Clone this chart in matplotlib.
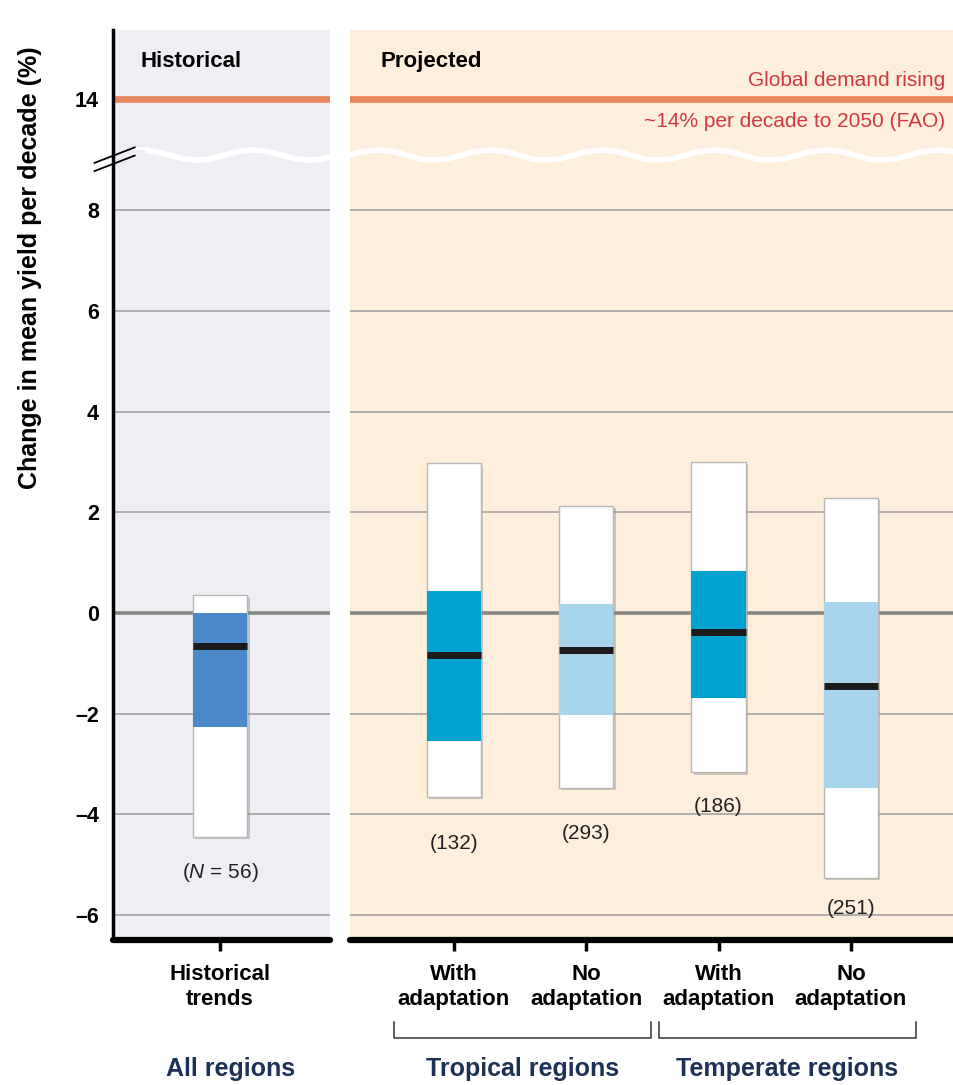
import numpy as np
import matplotlib.pyplot as plt
from matplotlib import font_manager
from matplotlib import patheffects as pe
from matplotlib.transforms import blended_transform_factory

installed = {f.name for f in font_manager.fontManager.ttflist}
FONT = next((f for f in ['Liberation Sans', 'Lato', 'Roboto Condensed']
             if f in installed), 'DejaVu Sans')

plt.rcParams['font.family'] = [FONT, 'DejaVu Sans']
plt.rcParams['mathtext.fontset'] = 'custom'
plt.rcParams['mathtext.it'] = FONT + ':italic'
plt.rcParams['mathtext.rm'] = FONT

# --- data ---
hist_labels = ['Historical\ntrends']
hist_counts = ['($N$ = 56)']
hist_top = [0.36]
hist_hi = [0.0]
hist_med = [-0.65]
hist_lo = [-2.26]
hist_bottom = [-4.46]

proj_labels = ['With\nadaptation', 'No\nadaptation', 'With\nadaptation', 'No\nadaptation']
proj_counts = ['(132)', '(293)', '(186)', '(251)']
proj_top = [2.97, 2.12, 2.99, 2.28]
proj_hi = [0.44, 0.18, 0.83, 0.22]
proj_med = [-0.83, -0.73, -0.38, -1.45]
proj_lo = [-2.55, -2.02, -1.70, -3.48]
proj_bottom = [-3.66, -3.47, -3.17, -5.27]

groups = ['Tropical regions', 'Temperate regions']
group_members = [(0, 1), (2, 3)]

demand_level = 14
ytick_vals = [-6, -4, -2, 0, 2, 4, 6, 8, 14]

# styling
HIST_COL = '#4a88c9'
WITH_COL = '#00a3cf'
NO_COL = '#a8d4ec'
LEFT_BG = '#eeeff4'
RIGHT_BG = '#fdefdc'
ORANGE = '#e8875c'
RED = '#d0393f'
NAVY = '#1d3157'

K = 0.37  # compression above the axis break


def fwd(y):
    y = np.asarray(y, dtype=float)
    return np.where(y <= 8, y, 8 + (y - 8) * K)


def inv(y):
    y = np.asarray(y, dtype=float)
    return np.where(y <= 8, y, 8 + (y - 8) / K)


W, H = 954, 1085
fig = plt.figure(figsize=(W / 100, H / 100), dpi=100)
fig.patch.set_facecolor('white')

y0, y1 = 940, 30
axL = fig.add_axes([113 / W, 1 - y0 / H, (330 - 113) / W, (y0 - y1) / H])
axR = fig.add_axes([350 / W, 1 - y0 / H, (954 - 350) / W, (y0 - y1) / H])

ylo = -6.5
yhi = float(inv(8 + (211 - 30) / 50.5))

for ax, bg in ((axL, LEFT_BG), (axR, RIGHT_BG)):
    ax.set_yscale('function', functions=(fwd, inv))
    ax.set_ylim(ylo, yhi)
    ax.set_facecolor(bg)
    for s in ('top', 'right'):
        ax.spines[s].set_visible(False)
    ax.spines['bottom'].set_linewidth(4.5)
    ax.spines['bottom'].set_capstyle('round')
    ax.spines['bottom'].set_zorder(6)
    for v in ytick_vals:
        if v == 0:
            ax.axhline(v, color='#8a8683', lw=2.6, zorder=1)
        elif v == demand_level:
            ax.axhline(v, color=ORANGE, lw=4.8, zorder=1)
        else:
            ax.axhline(v, color='#a5a3a1', lw=1.2, zorder=1)
    # wavy break line
    xs = np.linspace(0, 1, 400)
    ax_px = ax.get_position().width * W
    ax.plot(xs, 0.8626 + 0.0055 * np.sin(2 * np.pi * xs * ax_px / 112),
            color='white', lw=4, transform=ax.transAxes, zorder=2)

axR.spines['left'].set_visible(False)
axL.spines['left'].set_linewidth(2.5)
axL.set_yticks(ytick_vals)
axL.set_yticklabels([str(v).replace('-', '\u2013') for v in ytick_vals],
                    fontsize=15.5, fontweight='bold')
axL.tick_params(axis='y', length=0, pad=10)
axR.set_yticks([])
axR.yaxis.set_minor_locator(plt.NullLocator())
axL.yaxis.set_minor_locator(plt.NullLocator())

# keep the wave clear of the spine in the left panel
axL.plot([0, 0.12], [0.8626, 0.8626], color=LEFT_BG, lw=8,
         transform=axL.transAxes, zorder=2)

# axis-break marks on the left spine
for dy in (0.0, 0.009):
    axL.plot([-0.085, 0.10], [0.845 + dy, 0.862 + dy], color='black', lw=1.3,
             transform=axL.transAxes, clip_on=False, zorder=7)

shadow = [pe.SimplePatchShadow(offset=(1.5, -1.5), shadow_rgbFace='#777777', alpha=0.35),
          pe.Normal()]


def draw_boxes(ax, xpos, top, hi, med, lo, bottom, colors, counts, pads, width):
    ax.bar(xpos, np.subtract(top, bottom), bottom=bottom, width=width,
           color='white', edgecolor='#b9b6b3', lw=1.0, zorder=3,
           path_effects=shadow)
    ax.bar(xpos, np.subtract(hi, lo), bottom=lo, width=width, color=colors,
           lw=0, zorder=4)
    ax.hlines(med, np.subtract(xpos, width / 2), np.add(xpos, width / 2),
              color='#1a1a1a', lw=5, zorder=5)
    for x, b, c, p in zip(xpos, bottom, counts, pads):
        ax.annotate(c, (x, b), xytext=(0, -p * 0.72), textcoords='offset points',
                    ha='center', va='center', fontsize=15, color='#222222')


# left panel
xL = np.arange(len(hist_labels))
axL.set_xlim(-0.493, 0.507)
draw_boxes(axL, xL, hist_top, hist_hi, hist_med, hist_lo, hist_bottom,
           [HIST_COL], hist_counts, [35], 0.253)
axL.set_xticks(xL)
axL.set_xticklabels(hist_labels, fontsize=16, fontweight='bold', linespacing=1.3)

# right panel
xR = np.arange(len(proj_labels))
axR.set_xlim(-104 / 132.3, -104 / 132.3 + 604 / 132.3)
draw_boxes(axR, xR, proj_top, proj_hi, proj_med, proj_lo, proj_bottom,
           [WITH_COL, NO_COL, WITH_COL, NO_COL], proj_counts,
           [46, 46, 34, 30], 0.41)
axR.set_xticks(xR)
axR.set_xticklabels(proj_labels, fontsize=16, fontweight='bold', linespacing=1.3)

for ax in (axL, axR):
    ax.tick_params(axis='x', length=8, width=2.5, pad=9, direction='out')

# panel titles
axL.text(0.125, 0.965, 'Historical', transform=axL.transAxes, fontsize=16,
         fontweight='bold', va='center', ha='left')
axR.text(0.05, 0.965, 'Projected', transform=axR.transAxes, fontsize=16,
         fontweight='bold', va='center', ha='left')
axR.text(0.985, 0.944, 'Global demand rising', transform=axR.transAxes,
         fontsize=15, color=RED, ha='right', va='center')
axR.text(0.985, 0.899, '~14% per decade to 2050 (FAO)', transform=axR.transAxes,
         fontsize=15, color=RED, ha='right', va='center')

# group brackets and labels
tr = blended_transform_factory(axR.transData, axR.transAxes)
yb, yv = -0.1077, -0.090
for name, (a, b) in zip(groups, group_members):
    xa, xb = a - 0.45, b + 0.49
    axR.plot([xa, xa, xb, xb], [yv, yb, yb, yv], color='#333333', lw=1.1,
             transform=tr, clip_on=False)
    axR.text((xa + xb) / 2, -0.142, name, transform=tr, ha='center', va='center',
             fontsize=18, fontweight='bold', color=NAVY)

trL = blended_transform_factory(axL.transData, axL.transAxes)
axL.text(0.05, -0.142, 'All regions', transform=trL, ha='center', va='center',
         fontsize=18, fontweight='bold', color=NAVY)

fig.text(30 / W, 1 - 268 / H, 'Change in mean yield per decade (%)', rotation=90,
         ha='center', va='center', fontsize=18, fontweight='bold')

fig.savefig('out.png', dpi=100)
